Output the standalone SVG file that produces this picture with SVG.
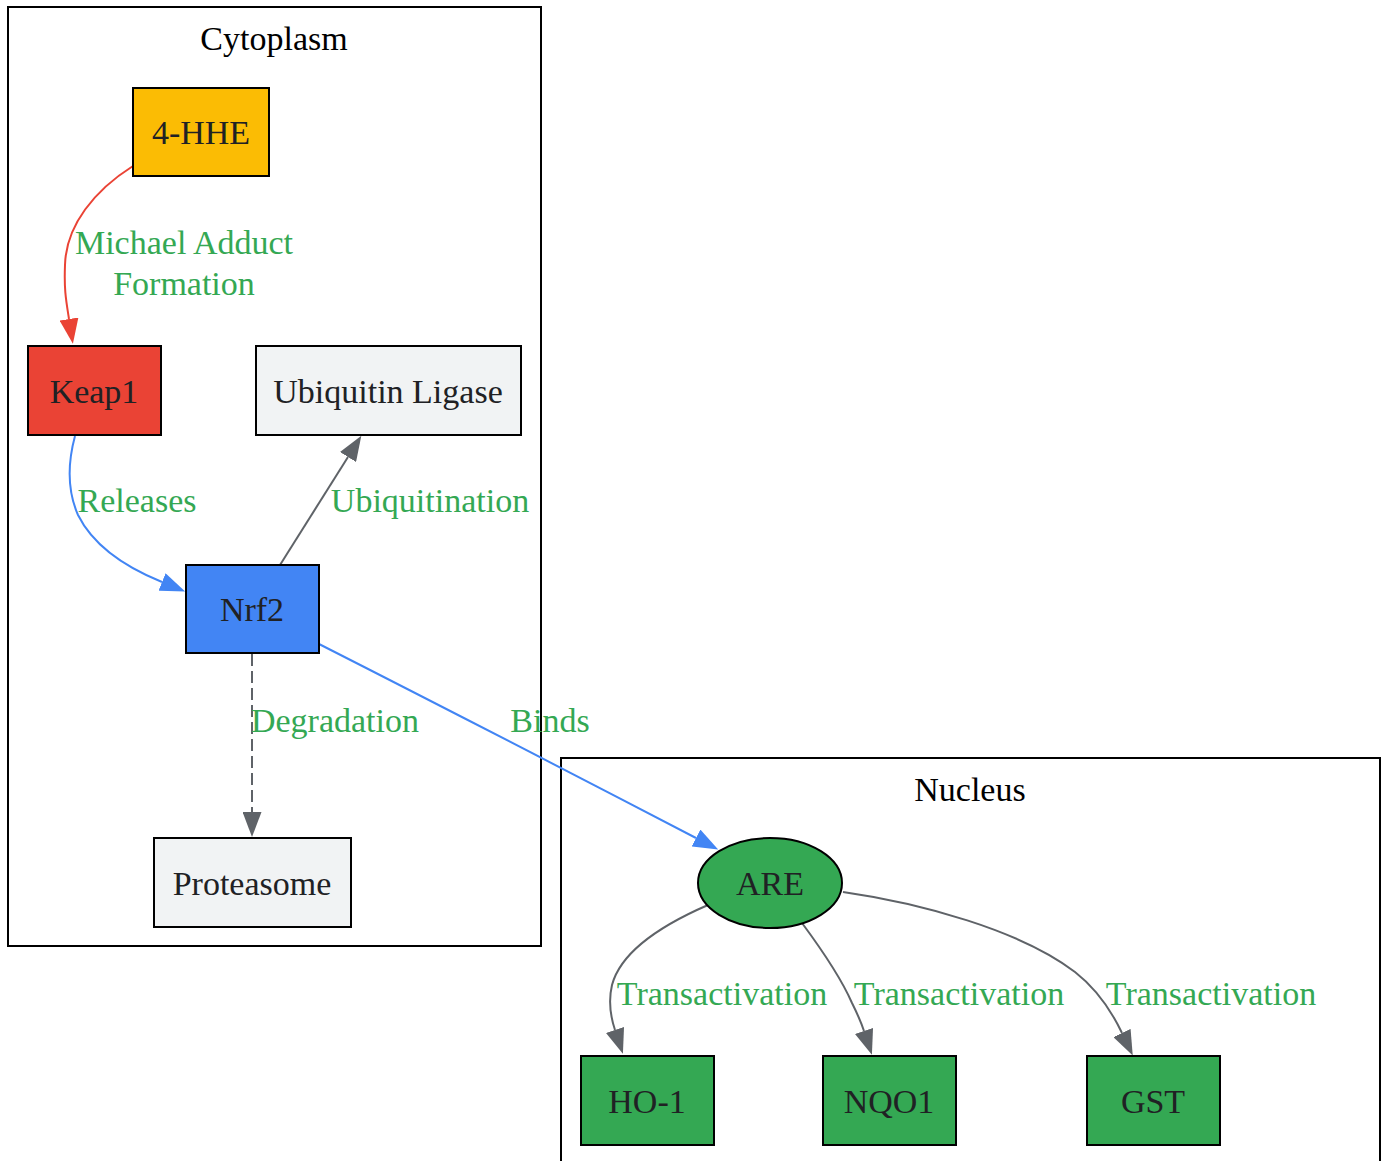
<svg xmlns="http://www.w3.org/2000/svg" width="1387" height="1161" viewBox="0 0 1387 1161">
<defs>
<style>
text{font-family:"Liberation Serif","Times New Roman",serif;font-size:34px;text-anchor:middle}
.cl{fill:none;stroke:#000;stroke-width:2}
.cll{fill:#000}
.n{stroke:#000;stroke-width:2}
.nt{fill:#202124}
.e{fill:none;stroke-width:2}
.lb{fill:#34A853}
</style>
<marker id="ar" markerUnits="userSpaceOnUse" viewBox="0 0 25 19" refX="0" refY="9.5" markerWidth="25" markerHeight="19" orient="auto"><path d="M0,0 L25,9.5 L0,19 Z" fill="#EA4335"/></marker>
<marker id="ab" markerUnits="userSpaceOnUse" viewBox="0 0 25 19" refX="0" refY="9.5" markerWidth="25" markerHeight="19" orient="auto"><path d="M0,0 L25,9.5 L0,19 Z" fill="#4285F4"/></marker>
<marker id="ag" markerUnits="userSpaceOnUse" viewBox="0 0 25 19" refX="0" refY="9.5" markerWidth="25" markerHeight="19" orient="auto"><path d="M0,0 L25,9.5 L0,19 Z" fill="#5F6368"/></marker>
</defs>
<rect width="1387" height="1161" fill="#fff"/>
<g id="cluster_cytoplasm">
<rect class="cl" x="8" y="7" width="533" height="939"/>
<text class="cll" x="274" y="50">Cytoplasm</text>
</g>
<g id="cluster_nucleus">
<rect class="cl" x="561" y="758" width="819" height="420"/>
<text class="cll" x="970" y="801">Nucleus</text>
</g>
<g id="edges">
<path class="e" stroke="#EA4335" marker-end="url(#ar)" d="M133,166 C95,190 66,225 65,265 C64,290 66,300 69,319"/>
<text class="lb" x="184" y="254">Michael Adduct</text>
<text class="lb" x="184" y="295">Formation</text>
<path class="e" stroke="#4285F4" marker-end="url(#ab)" d="M75,436 C68,462 67,490 78,515 C92,543 120,565 162,582"/>
<text class="lb" x="137" y="512">Releases</text>
<path class="e" stroke="#5F6368" marker-end="url(#ag)" d="M280,565 L348,457"/>
<text class="lb" x="430" y="512">Ubiquitination</text>
<path class="e" stroke="#5F6368" stroke-dasharray="12,5" marker-end="url(#ag)" d="M252,654 L252,812"/>
<text class="lb" x="335" y="732">Degradation</text>
<path class="e" stroke="#4285F4" marker-end="url(#ab)" d="M319,644 Q500,736 696,838"/>
<text class="lb" x="550" y="732">Binds</text>
<path class="e" stroke="#5F6368" marker-end="url(#ag)" d="M708,905 C655,928 620,955 612,985 C608,1002 611,1018 615,1030"/>
<text class="lb" x="722" y="1005">Transactivation</text>
<path class="e" stroke="#5F6368" marker-end="url(#ag)" d="M802,923 C822,950 842,980 852,1003 C857,1013 861,1022 864,1031"/>
<text class="lb" x="959" y="1005">Transactivation</text>
<path class="e" stroke="#5F6368" marker-end="url(#ag)" d="M843,892 C920,903 1020,930 1075,972 C1098,990 1112,1012 1122,1033"/>
<text class="lb" x="1211" y="1005">Transactivation</text>
</g>
<g id="node_4hhe">
<rect class="n" x="133" y="88" width="136" height="88" fill="#FBBC04"/>
<text class="nt" x="201" y="144">4-HHE</text>
</g>
<g id="node_keap1">
<rect class="n" x="28" y="346" width="133" height="89" fill="#EA4335"/>
<text class="nt" x="94" y="403">Keap1</text>
</g>
<g id="node_ubiquitin_ligase">
<rect class="n" x="256" y="346" width="265" height="89" fill="#F1F3F4"/>
<text class="nt" x="388" y="403">Ubiquitin Ligase</text>
</g>
<g id="node_nrf2">
<rect class="n" x="186" y="565" width="133" height="88" fill="#4285F4"/>
<text class="nt" x="252" y="621">Nrf2</text>
</g>
<g id="node_proteasome">
<rect class="n" x="154" y="838" width="197" height="89" fill="#F1F3F4"/>
<text class="nt" x="252" y="895">Proteasome</text>
</g>
<g id="node_are">
<ellipse class="n" cx="770" cy="883" rx="72" ry="45" fill="#34A853"/>
<text class="nt" x="770" y="895">ARE</text>
</g>
<g id="node_ho1">
<rect class="n" x="581" y="1056" width="133" height="89" fill="#34A853"/>
<text class="nt" x="647" y="1113">HO-1</text>
</g>
<g id="node_nqo1">
<rect class="n" x="823" y="1056" width="133" height="89" fill="#34A853"/>
<text class="nt" x="889" y="1113">NQO1</text>
</g>
<g id="node_gst">
<rect class="n" x="1087" y="1056" width="133" height="89" fill="#34A853"/>
<text class="nt" x="1153" y="1113">GST</text>
</g>
</svg>
